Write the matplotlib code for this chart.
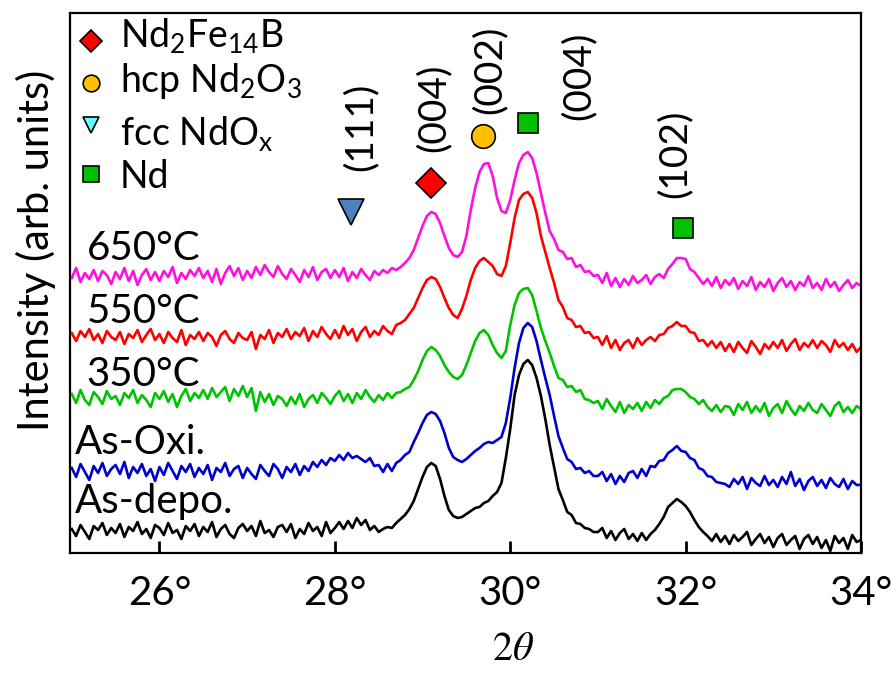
import numpy as np
import matplotlib.pyplot as plt

plt.rcParams['font.family'] = ['Lato', 'DejaVu Sans']
plt.rcParams['mathtext.fontset'] = 'custom'
plt.rcParams['mathtext.rm'] = 'Lato'
plt.rcParams['mathtext.it'] = 'Lato:italic'
plt.rcParams['mathtext.bf'] = 'Lato:bold'

# scan positions, 0.05 deg step
two_theta = np.linspace(25.0, 34.0, 181)

as_depo = [
    24, 17, 28, 21, 14, 27, 23, 30, 18, 25,
    20, 29, 16, 26, 22, 31, 19, 24, 15, 28,
    25, 18, 30, 20, 23, 14, 27, 22, 29, 17,
    26, 21, 31, 16, 24, 28, 19, 15, 25, 29,
    22, 27, 17, 32, 20, 23, 16, 26, 28, 21,
    29, 15, 24, 19, 30, 22, 26, 17, 31, 20,
    25, 31, 24, 32, 25, 35, 28, 33, 23, 27,
    21, 24, 26, 25, 30, 34, 38, 44, 52, 64,
    76, 86, 90, 87, 74, 57, 43, 37, 35, 36,
    39, 42, 45, 46, 50, 52, 57, 61, 70, 95,
    124, 158, 178, 189, 193, 188, 175, 157, 134, 108,
    86, 64, 53, 41, 38, 30, 29, 25, 24, 21,
    21, 25, 15, 22, 13, 20, 24, 14, 19, 12,
    20, 13, 19, 23, 29, 36, 46, 50, 54, 51,
    47, 41, 33, 26, 21, 17, 12, 19, 11, 17,
    9, 18, 12, 16, 21, 8, 14, 19, 10, 16,
    6, 15, 19, 8, 13, 17, 4, 14, 18, 9,
    16, 5, 13, 2, 17, 10, 15, 4, 18, 11,
    13]

as_oxi = [
    25, 16, 29, 21, 13, 27, 20, 30, 17, 24,
    28, 19, 31, 15, 26, 20, 29, 17, 24, 12,
    26, 18, 30, 22, 14, 27, 21, 29, 16, 25,
    19, 28, 13, 25, 21, 30, 17, 24, 27, 15,
    25, 19, 14, 28, 22, 17, 29, 24, 15, 26,
    21, 29, 18, 27, 22, 31, 26, 33, 28, 35,
    32, 38, 33, 40, 35, 37, 34, 31, 35, 27,
    28, 21, 29, 22, 30, 33, 38, 41, 51, 60,
    70, 78, 81, 79, 72, 60, 45, 36, 33, 31,
    34, 38, 42, 45, 49, 51, 50, 53, 56, 70,
    95, 125, 150, 165, 170, 166, 152, 133, 115, 98,
    77, 57, 45, 34, 31, 24, 25, 20, 22, 17,
    17, 21, 12, 19, 9, 17, 11, 20, 22, 15,
    24, 17, 27, 26, 32, 33, 40, 43, 47, 42,
    41, 35, 33, 25, 23, 17, 16, 11, 10, 9,
    6, 14, 9, 16, 4, 15, 10, 7, 17, 8,
    13, 6, 16, 9, 21, 7, 14, 3, 12, 16,
    7, 13, 5, 15, 9, 6, 14, 4, 12, 8,
    8]

t350 = [
    29, 20, 33, 23, 18, 31, 26, 19, 32, 24,
    27, 18, 30, 25, 33, 20, 28, 23, 16, 30,
    24, 32, 21, 29, 16, 27, 34, 22, 30, 25,
    33, 24, 35, 26, 31, 36, 22, 34, 27, 37,
    26, 35, 12, 31, 21, 29, 18, 27, 24, 17,
    26, 19, 29, 16, 24, 28, 20, 30, 25, 19,
    27, 32, 22, 29, 20, 30, 24, 33, 26, 21,
    28, 23, 30, 25, 30, 31, 34, 36, 43, 52,
    63, 72, 76, 73, 67, 58, 51, 46, 44, 48,
    58, 70, 82, 90, 93, 88, 78, 70, 65, 72,
    98, 118, 130, 134, 135, 128, 112, 95, 82, 70,
    57, 45, 43, 36, 37, 31, 33, 24, 23, 20,
    22, 14, 24, 17, 11, 21, 10, 18, 14, 20,
    12, 21, 15, 23, 19, 25, 27, 33, 34, 34,
    31, 26, 24, 19, 23, 16, 12, 18, 11, 17,
    16, 8, 19, 13, 21, 10, 17, 11, 20, 7,
    15, 19, 10, 22, 14, 8, 17, 12, 20, 13,
    10, 19, 13, 7, 17, 21, 11, 16, 10, 17,
    14]

t550 = [
    25, 17, 27, 21, 29, 18, 24, 15, 27, 21,
    18, 26, 14, 24, 20, 28, 16, 23, 29, 18,
    24, 15, 26, 20, 16, 28, 13, 23, 19, 26,
    17, 25, 21, 12, 23, 27, 19, 15, 25, 20,
    18, 26, 9, 23, 19, 28, 15, 25, 21, 29,
    19, 26, 22, 30, 17, 27, 21, 31, 24, 19,
    28, 20, 32, 23, 29, 17, 26, 31, 21, 27,
    23, 32, 27, 24, 33, 35, 38, 44, 50, 60,
    70, 78, 81, 79, 71, 60, 50, 43, 40, 49,
    62, 78, 90, 97, 100, 96, 92, 84, 82, 92,
    115, 140, 158, 164, 166, 160, 145, 122, 106, 90,
    75, 58, 51, 40, 38, 31, 32, 25, 26, 20,
    21, 13, 22, 10, 18, 8, 15, 18, 10, 20,
    13, 18, 21, 17, 23, 24, 30, 32, 36, 32,
    32, 26, 25, 17, 18, 12, 17, 10, 16, 7,
    14, 6, 16, 10, 5, 17, 11, 4, 14, 9,
    16, 10, 18, 7, 14, 19, 8, 15, 11, 18,
    10, 17, 13, 6, 18, 11, 15, 8, 14, 6,
    11]

t650 = [
    20, 30, 16, 25, 19, 28, 17, 27, 23, 14,
    26, 19, 30, 17, 27, 13, 23, 29, 18, 26,
    17, 27, 21, 31, 15, 25, 19, 28, 22, 30,
    20, 27, 16, 29, 14, 25, 32, 22, 30, 18,
    27, 20, 31, 23, 33, 26, 21, 32, 24, 19,
    29, 23, 16, 28, 21, 31, 18, 26, 29, 20,
    28, 21, 30, 17, 26, 20, 29, 23, 18, 27,
    23, 28, 25, 30, 28, 31, 35, 40, 48, 60,
    72, 82, 86, 84, 75, 62, 50, 43, 41, 46,
    62, 88, 110, 126, 134, 135, 122, 100, 87, 85,
    98, 118, 135, 143, 146, 140, 125, 105, 85, 67,
    59, 48, 46, 39, 40, 31, 33, 26, 27, 22,
    23, 15, 25, 12, 20, 11, 19, 13, 22, 15,
    18, 23, 14, 21, 24, 20, 29, 34, 40, 40,
    39, 29, 26, 20, 14, 19, 12, 21, 10, 18,
    13, 20, 9, 17, 12, 21, 8, 16, 11, 19,
    7, 15, 20, 11, 17, 8, 16, 12, 22, 10,
    15, 8, 19, 11, 16, 7, 13, 18, 10, 15,
    12]

sample_names = ['As-depo.', 'As-Oxi.', '350°C', '550°C', '650°C']
sample_data = [as_depo, as_oxi, t350, t550, t650]
colors = ['black', '#0000cc', '#00c400', '#ff0000', '#ff10e0']
offsets = [0, 60, 130, 195, 255]
# label placement: (x, baseline y)
name_pos = [(25.04, 40), (25.04, 99), (25.17, 167), (25.17, 230), (25.17, 293)]

# phases: label, marker, face colour
phases = [
    ('Nd$_2$Fe$_{14}$B', 'D', '#ff0000'),
    ('hcp Nd$_2$O$_3$', 'o', '#ffc000'),
    ('fcc NdO$_\\mathrm{x}$', 'v', '#66ffff'),
    ('Nd', 's', '#00c000'),
]

# indexed reflections: 2theta, hkl, phase index
peak_pos = [28.18, 29.10, 29.69, 30.20, 31.97]
peak_hkl = ['(111)', '(004)', '(002)', '(004)', '(102)']
peak_phase = [2, 0, 1, 3, 3]

fig = plt.figure(figsize=(8.91, 6.73), dpi=100)
ax = fig.add_axes([70 / 891, 120 / 673, 791 / 891, 540 / 673])

for y, off, c in zip(sample_data, offsets, colors):
    ax.plot(two_theta, np.array(y) + off, color=c, lw=1.9)

for name, (tx, ty) in zip(sample_names, name_pos):
    ax.text(tx, ty, name, fontsize=29, ha='left', va='baseline')

# legend drawn by hand
leg_y = [506, 461, 408, 365]
leg_my = [512, 470, 428, 379]
leg_ms = [11, 12, 12, 12]
for (lab, m, fc), ty, my, ms in zip(phases, leg_y, leg_my, leg_ms):
    ax.plot([25.22], [my], marker=m, ms=ms, mfc=fc, mec='black', mew=1.2,
            ls='none')
    ax.text(25.55, ty, lab, fontsize=27, ha='left', va='baseline')

# peak markers and hkl labels
mark_y = [341, 370, 417, 430, 325]
mark_size = [19, 15, 17, 14, 14]
mark_face = ['#4f81bd', '#ff0000', '#ffc000', '#00c000', '#00c000']
hkl_x = [28.29, 29.13, 29.76, 30.78, 31.87]
hkl_y = [426, 445, 483, 477, 399]
for px, ph, my, ms, fc in zip(peak_pos, peak_phase, mark_y, mark_size, mark_face):
    ax.plot([px], [my], marker=phases[ph][1], ms=ms, mfc=fc, mec='black',
            mew=1.2, ls='none')
for hx, hy, hkl in zip(hkl_x, hkl_y, peak_hkl):
    ax.text(hx, hy, hkl, fontsize=28, rotation=90, ha='center', va='center')

ax.set_xlim(24.98, 34.0)
ax.set_ylim(0, 540)
ax.set_xticks([26, 28, 30, 32, 34])
ax.set_xticklabels(['26°', '28°', '30°', '32°', '34°'], fontsize=29)
ax.set_yticks([])
ax.tick_params(axis='x', direction='in', length=9, width=2, pad=16)
for s in ax.spines.values():
    s.set_linewidth(1.6)

fig.text(513 / 891, 1 - 649 / 673, '$2\\theta$', fontsize=29,
         math_fontfamily='stix', ha='center', va='center')
fig.text(36 / 891, 1 - 250 / 673, 'Intensity (arb. units)', fontsize=30,
         rotation=90, ha='center', va='center')

fig.savefig('out.png', dpi=100)
